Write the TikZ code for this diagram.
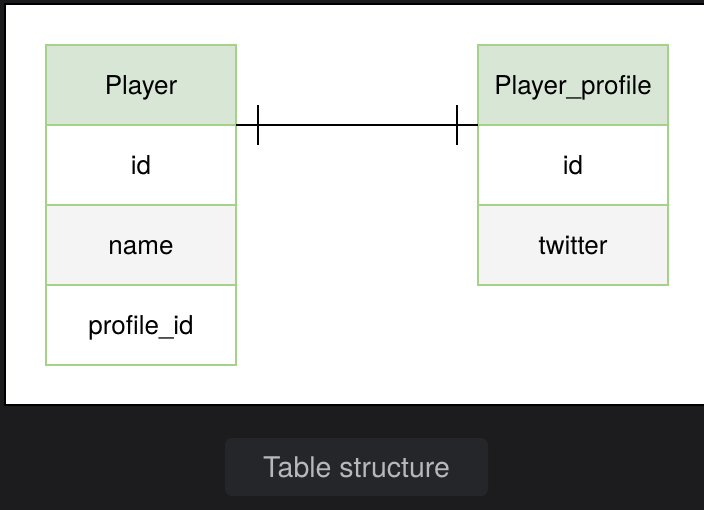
\documentclass[tikz,border=0pt]{standalone}
\usepackage{fontspec}
\setmainfont{TeX Gyre Heros}
\usetikzlibrary{decorations.markings}

\definecolor{tablegreen}{HTML}{A5D18A}
\definecolor{headfill}{HTML}{D8E7D5}
\definecolor{rowgray}{HTML}{F4F4F4}
\definecolor{pagedark}{HTML}{1C1C1E}
\definecolor{captionfill}{HTML}{252629}
\definecolor{captiontext}{HTML}{B8B8BC}

\tikzset{
    cell/.style={draw=tablegreen, line width=2pt, fill=white, minimum width=190pt, minimum height=80pt, inner sep=0pt, outer sep=0pt, text height=18.5pt, text depth=0pt, font=\fontsize{26}{30}\selectfont},
    head/.style={cell, fill=headfill},
    grayrow/.style={cell, fill=rowgray},
    onetoone/.style={line width=2pt, postaction={decorate}, decoration={markings,
        mark=at position 22pt with {\draw[line width=2pt] (0,-20pt) -- (0,20pt);},
        mark=at position -21pt with {\draw[line width=2pt] (0,-20pt) -- (0,20pt);}}}
}

\begin{document}
\begin{tikzpicture}[x=1pt, y=-1pt]
            % page and frame
            \fill[pagedark] (0,0) rectangle (704,510);
            \fill[black] (4,3) rectangle (704,406);
            \fill[white] (6,5) rectangle (704,404);
            \useasboundingbox (0,0) rectangle (704,510);

            \node[head] (player) at (141,85) {Player};
            \node[cell] (player_id) at (141,165) {id};
            \node[grayrow] (player_name) at (141,245) {name};
            \node[cell] (player_profile_id) at (141,325) {profile\_id};

            \node[head] (profile) at (573,85) {Player\_profile};
            \node[cell] (profile_id) at (573,165) {id};
            \node[grayrow] (profile_twitter) at (573,245) {twitter};

            \draw[onetoone] (player.south east) -- (profile.south west);

            \node[fill=captionfill, rounded corners=7pt, minimum width=263pt, minimum height=58pt, inner sep=0pt, text height=20.5pt, text depth=0pt, text=captiontext, font=\fontsize{28.5}{32}\selectfont] (caption) at (356.5,467) {Table structure};
        \end{tikzpicture}
\end{document}
